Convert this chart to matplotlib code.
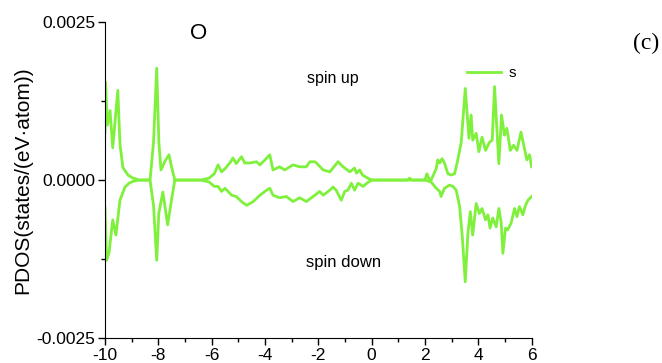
import matplotlib
matplotlib.use("Agg")
import matplotlib.pyplot as plt
from matplotlib.ticker import MultipleLocator

plt.rcParams['font.family'] = ['Liberation Sans', 'DejaVu Sans']
plt.rcParams['axes.unicode_minus'] = False

# Energy (eV) and PDOS values, spin up
energy_up = [-10.0, -9.98, -9.91, -9.81, -9.71, -9.52, -9.44, -9.33, -9.14, -8.95, -8.85, -8.75,
             -8.31, -8.18, -8.06, -7.98, -7.9, -7.75, -7.6, -7.5, -7.38,
             -6.4, -6.1, -5.9, -5.76, -5.63, -5.5, -5.32, -5.2, -5.08, -4.88, -4.76, -4.57,
             -4.32, -4.19, -4.0, -3.82, -3.7, -3.45, -3.26, -2.95, -2.7, -2.45, -2.32, -2.13,
             -2.07, -1.82, -1.57, -1.26, -1.07, -0.82, -0.64, -0.57, -0.45, -0.34, -0.15, 0.0,
             1.35, 1.42, 1.5, 2.0, 2.07, 2.15, 2.23, 2.42, 2.48, 2.55, 2.64, 2.73, 2.86, 2.98,
             3.11, 3.23, 3.36, 3.51, 3.65, 3.73, 3.79, 3.92, 4.02, 4.14, 4.27, 4.42, 4.52,
             4.61, 4.69, 4.77, 4.87, 4.98, 5.07, 5.2, 5.32, 5.45, 5.6, 5.73, 5.82, 5.92, 6.0]
pdos_up = [0.00075, 0.00155, 0.00087, 0.0011, 0.00051, 0.00142, 0.00058, 0.0002, 0.00008, 0.00003, 0.00002, 0.0,
           0.0, 0.0006, 0.00177, 0.0006, 0.00016, 0.0003, 0.0004, 0.0002, 0.0,
           0.0, 0.00003, 0.0001, 0.00024, 0.00013, 0.00018, 0.00027, 0.00035, 0.00026, 0.00037, 0.00027, 0.00027,
           0.00029, 0.00024, 0.00032, 0.0004, 0.00016, 0.00021, 0.00016, 0.00024, 0.00021, 0.00021, 0.00029, 0.00029,
           0.00027, 0.00016, 0.00013, 0.00029, 0.00021, 0.00013, 0.00019, 0.00011, 0.00016, 0.00008, 0.00003, 0.0,
           0.0, 0.00003, 0.0, 0.0, 0.0001, 0.00002, 0.0, 0.00018, 0.00032, 0.00027, 0.00034, 0.00027, 0.0001, 0.00008,
           0.0001, 0.00032, 0.0006, 0.00145, 0.00066, 0.00103, 0.00063, 0.00074, 0.00045, 0.00068, 0.00047, 0.0006, 0.00063,
           0.00148, 0.00085, 0.00026, 0.00103, 0.00071, 0.00082, 0.00047, 0.00055, 0.00047, 0.00076, 0.0005, 0.00032, 0.0004, 0.00021]

# Spin down
energy_dn = [-10.0, -9.94, -9.85, -9.71, -9.59, -9.44, -9.25, -9.1, -8.95, -8.85, -8.75,
             -8.31, -8.18, -8.06, -7.98, -7.83, -7.65, -7.5, -7.38,
             -6.4, -6.1, -5.9, -5.76, -5.63, -5.5, -5.25, -5.08, -4.88, -4.69, -4.44, -4.19,
             -3.94, -3.82, -3.7, -3.45, -3.2, -2.95, -2.7, -2.45, -2.13, -1.95, -1.82, -1.57,
             -1.45, -1.33, -1.14, -1.01, -0.89, -0.76, -0.64, -0.51, -0.32, -0.15, 0.0,
             2.0, 2.23, 2.4, 2.55, 2.6, 2.73, 2.92, 3.05, 3.17, 3.3, 3.4, 3.51, 3.61, 3.7, 3.79,
             3.92, 4.04, 4.14, 4.27, 4.36, 4.44, 4.54, 4.67, 4.77, 4.86, 4.92, 5.02, 5.1, 5.23,
             5.36, 5.45, 5.54, 5.67, 5.77, 5.86, 6.0]
pdos_dn = [-0.00043, -0.00127, -0.00115, -0.00063, -0.00087, -0.00032, -0.00011, -0.00005, -0.00002, -0.00001, 0.0,
           0.0, -0.0004, -0.00127, -0.00052, -0.00019, -0.00071, -0.0003, 0.0,
           0.0, -0.00003, -0.0001, -0.0001, -0.00018, -0.00013, -0.00024, -0.00026, -0.00034, -0.0004, -0.00034, -0.00024,
           -0.00016, -0.00013, -0.00024, -0.00028, -0.00026, -0.00034, -0.00028, -0.00034, -0.00024, -0.00018, -0.00024, -0.00016,
           -0.00011, -0.00016, -0.00032, -0.00018, -0.00016, -0.00005, -0.00016, -0.00005, -0.0001, -0.00004, 0.0,
           0.0, -0.00003, -0.00012, -0.00018, -0.00026, -0.00013, -0.00008, -0.0001, -0.00016, -0.00042, -0.0009, -0.00161, -0.00084, -0.0005, -0.00087,
           -0.00037, -0.00053, -0.00045, -0.00063, -0.00055, -0.00076, -0.0006, -0.00074, -0.00045, -0.00068, -0.00116, -0.00076, -0.00079, -0.00068,
           -0.00045, -0.00058, -0.00042, -0.00055, -0.0004, -0.00032, -0.00026]

line_color = '#7FF03C'

fig = plt.figure(figsize=(6.62, 3.63), dpi=100)
ax = fig.add_axes([0.1586, 0.0689, 0.8031 - 0.1586, 0.939 - 0.0689])

ax.plot(energy_up, pdos_up, color=line_color, lw=2.0, label='s', solid_joinstyle='round')
ax.plot(energy_dn, pdos_dn, color=line_color, lw=2.0, solid_joinstyle='round')

ax.set_xlim(-10, 6)
ax.set_ylim(-0.0025, 0.0025)
ax.set_xticks([-10, -8, -6, -4, -2, 0, 2, 4, 6])
ax.set_yticks([-0.0025, 0.0, 0.0025])
ax.set_yticklabels(['-0.0025', '0.0000', '0.0025'])
ax.xaxis.set_minor_locator(MultipleLocator(1))
ax.yaxis.set_minor_locator(MultipleLocator(0.00125))
ax.tick_params(which='major', direction='out', length=5, width=1, labelsize=12.5, pad=2)
ax.tick_params(which='minor', direction='out', length=3, width=1)
ax.spines['top'].set_visible(False)
ax.spines['right'].set_visible(False)

ax.set_ylabel('PDOS(states/(eV\u00b7atom))', fontsize=15, labelpad=3)

ax.text(-6.5, 0.00232, 'O', fontsize=16, ha='center', va='center')
ax.text(-1.46, 0.00161, 'spin up', fontsize=11.5, ha='center', va='center')
ax.text(-1.07, -0.0013, 'spin down', fontsize=12, ha='center', va='center')
fig.text(0.976, 0.8815, '(c)', fontsize=17, family='Liberation Serif', ha='center', va='center')

leg = ax.legend(loc='center left', bbox_to_anchor=(0.835, 0.839), frameon=False, fontsize=11,
                handlelength=2.2, handletextpad=0.5, borderaxespad=0)

fig.savefig('out.png', dpi=100)
